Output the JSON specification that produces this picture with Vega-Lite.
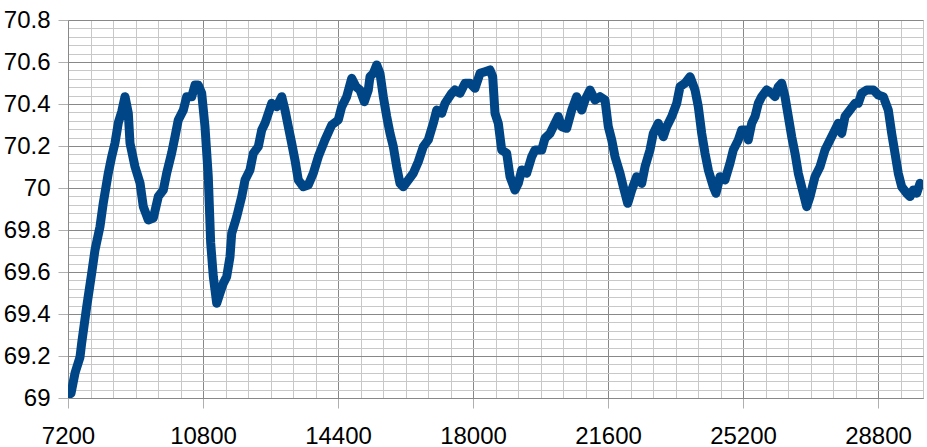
{
  "$schema": "https://vega.github.io/schema/vega-lite/v6.json",
  "width": 855,
  "height": 378,
  "autosize": {"type": "none"},
  "padding": {"left": 68, "top": 20, "right": 4, "bottom": 49},
  "background": "white",
  "config": {
    "view": {"stroke": null},
    "axis": {"labelFont": "Liberation Sans", "labelFontSize": 24, "labelColor": "#000000", "titleFont": "Liberation Sans"}
  },
  "data": {
    "values": [
      {"t":7200,"v":69.014},{"t":7280,"v":69.022},{"t":7387,"v":69.119},{"t":7520,"v":69.195},{"t":7565,"v":69.262},
      {"t":7699,"v":69.435},{"t":7832,"v":69.595},{"t":7920,"v":69.705},{"t":8053,"v":69.816},{"t":8141,"v":69.929},
      {"t":8275,"v":70.071},{"t":8365,"v":70.149},{"t":8453,"v":70.214},{"t":8541,"v":70.31},{"t":8632,"v":70.363},
      {"t":8720,"v":70.435},{"t":8808,"v":70.357},{"t":8853,"v":70.214},{"t":8987,"v":70.101},{"t":9120,"v":70.024},
      {"t":9208,"v":69.911},{"t":9341,"v":69.848},{"t":9475,"v":69.857},{"t":9608,"v":69.959},{"t":9741,"v":69.99},
      {"t":9832,"v":70.071},{"t":9965,"v":70.167},{"t":10053,"v":70.244},{"t":10141,"v":70.324},{"t":10275,"v":70.371},
      {"t":10365,"v":70.435},{"t":10499,"v":70.435},{"t":10587,"v":70.49},{"t":10675,"v":70.49},{"t":10765,"v":70.451},
      {"t":10853,"v":70.292},{"t":10941,"v":70.054},{"t":11005,"v":69.738},{"t":11075,"v":69.578},{"t":11165,"v":69.451},
      {"t":11253,"v":69.499},{"t":11341,"v":69.546},{"t":11432,"v":69.578},{"t":11520,"v":69.673},{"t":11565,"v":69.784},
      {"t":11699,"v":69.863},{"t":11832,"v":69.959},{"t":11920,"v":70.038},{"t":12053,"v":70.086},{"t":12141,"v":70.165},
      {"t":12275,"v":70.197},{"t":12365,"v":70.276},{"t":12453,"v":70.308},{"t":12632,"v":70.403},{"t":12765,"v":70.387},
      {"t":12899,"v":70.435},{"t":12987,"v":70.371},{"t":13075,"v":70.292},{"t":13165,"v":70.213},{"t":13253,"v":70.133},
      {"t":13341,"v":70.038},{"t":13475,"v":70.006},{"t":13608,"v":70.014},{"t":13741,"v":70.07},{"t":13875,"v":70.149},
      {"t":14053,"v":70.229},{"t":14232,"v":70.3},{"t":14408,"v":70.324},{"t":14499,"v":70.387},{"t":14632,"v":70.435},
      {"t":14765,"v":70.522},{"t":14880,"v":70.482},{"t":14987,"v":70.467},{"t":15101,"v":70.411},{"t":15208,"v":70.467},
      {"t":15253,"v":70.53},{"t":15341,"v":70.546},{"t":15432,"v":70.586},{"t":15520,"v":70.546},{"t":15608,"v":70.435},
      {"t":15699,"v":70.34},{"t":15787,"v":70.26},{"t":15875,"v":70.197},{"t":15965,"v":70.101},{"t":16053,"v":70.022},
      {"t":16141,"v":70.006},{"t":16275,"v":70.038},{"t":16408,"v":70.07},{"t":16541,"v":70.125},{"t":16675,"v":70.197},
      {"t":16808,"v":70.229},{"t":16941,"v":70.308},{"t":17032,"v":70.371},{"t":17165,"v":70.356},{"t":17253,"v":70.403},
      {"t":17432,"v":70.451},{"t":17520,"v":70.467},{"t":17653,"v":70.451},{"t":17787,"v":70.499},{"t":17920,"v":70.499},
      {"t":18053,"v":70.475},{"t":18187,"v":70.546},{"t":18320,"v":70.554},{"t":18453,"v":70.562},{"t":18525,"v":70.53},
      {"t":18587,"v":70.356},{"t":18675,"v":70.308},{"t":18765,"v":70.181},{"t":18899,"v":70.165},{"t":18987,"v":70.054},
      {"t":19120,"v":69.99},{"t":19208,"v":70.022},{"t":19299,"v":70.086},{"t":19432,"v":70.07},{"t":19565,"v":70.149},
      {"t":19653,"v":70.181},{"t":19832,"v":70.181},{"t":19920,"v":70.237},{"t":20053,"v":70.26},{"t":20141,"v":70.292},
      {"t":20275,"v":70.34},{"t":20365,"v":70.292},{"t":20499,"v":70.284},{"t":20632,"v":70.371},{"t":20765,"v":70.435},
      {"t":20899,"v":70.371},{"t":20987,"v":70.419},{"t":21120,"v":70.467},{"t":21253,"v":70.419},{"t":21387,"v":70.435},
      {"t":21520,"v":70.419},{"t":21608,"v":70.292},{"t":21699,"v":70.229},{"t":21787,"v":70.149},{"t":21920,"v":70.07},
      {"t":22008,"v":70.006},{"t":22125,"v":69.927},{"t":22232,"v":69.99},{"t":22365,"v":70.054},{"t":22499,"v":70.022},
      {"t":22587,"v":70.101},{"t":22720,"v":70.181},{"t":22808,"v":70.26},{"t":22941,"v":70.308},{"t":23075,"v":70.244},
      {"t":23165,"v":70.292},{"t":23299,"v":70.34},{"t":23432,"v":70.403},{"t":23520,"v":70.482},{"t":23653,"v":70.499},
      {"t":23787,"v":70.53},{"t":23920,"v":70.467},{"t":24008,"v":70.387},{"t":24099,"v":70.26},{"t":24187,"v":70.165},
      {"t":24275,"v":70.086},{"t":24408,"v":70.006},{"t":24480,"v":69.975},{"t":24587,"v":70.054},{"t":24720,"v":70.038},
      {"t":24853,"v":70.118},{"t":24941,"v":70.181},{"t":25075,"v":70.229},{"t":25165,"v":70.276},{"t":25299,"v":70.276},
      {"t":25341,"v":70.229},{"t":25432,"v":70.308},{"t":25520,"v":70.34},{"t":25608,"v":70.403},{"t":25699,"v":70.435},
      {"t":25832,"v":70.467},{"t":25965,"v":70.451},{"t":26053,"v":70.435},{"t":26141,"v":70.482},{"t":26232,"v":70.499},
      {"t":26320,"v":70.435},{"t":26408,"v":70.34},{"t":26499,"v":70.244},{"t":26587,"v":70.165},{"t":26675,"v":70.07},
      {"t":26808,"v":69.975},{"t":26899,"v":69.911},{"t":26987,"v":69.959},{"t":27120,"v":70.054},{"t":27253,"v":70.101},
      {"t":27387,"v":70.181},{"t":27520,"v":70.229},{"t":27653,"v":70.276},{"t":27741,"v":70.308},{"t":27832,"v":70.26},
      {"t":27920,"v":70.34},{"t":28053,"v":70.371},{"t":28187,"v":70.403},{"t":28275,"v":70.403},{"t":28365,"v":70.451},
      {"t":28499,"v":70.467},{"t":28675,"v":70.467},{"t":28808,"v":70.443},{"t":28941,"v":70.435},{"t":29075,"v":70.371},
      {"t":29165,"v":70.26},{"t":29253,"v":70.165},{"t":29341,"v":70.07},{"t":29432,"v":70.006},{"t":29565,"v":69.975},
      {"t":29653,"v":69.959},{"t":29741,"v":69.99},{"t":29832,"v":69.975},{"t":29920,"v":70.022}
    ]
  },
  "resolve": {"axis": {"x": "independent", "y": "independent"}},
  "layer": [
    {
      "mark": {"type": "line", "strokeOpacity": 0},
      "encoding": {
        "x": {"field": "t", "type": "quantitative", "scale": {"domain": [7200, 30000], "nice": false, "zero": false},
          "axis": {"orient": "top", "values": [7200,7800,8400,9000,9600,10200,10800,11400,12000,12600,13200,13800,14400,15000,15600,16200,16800,17400,18000,18600,19200,19800,20400,21000,21600,22200,22800,23400,24000,24600,25200,25800,26400,27000,27600,28200,28800,29400,30000],
            "labels": false, "ticks": false, "domain": false, "title": null, "grid": true, "gridColor": "#c8c8c8", "gridWidth": 1}},
        "y": {"field": "v", "type": "quantitative", "scale": {"domain": [69, 70.8], "nice": false, "zero": false},
          "axis": {"orient": "right", "values": [69,69.04,69.08,69.12,69.16,69.2,69.24,69.28,69.32,69.36,69.4,69.44,69.48,69.52,69.56,69.6,69.64,69.68,69.72,69.76,69.8,69.84,69.88,69.92,69.96,70,70.04,70.08,70.12,70.16,70.2,70.24,70.28,70.32,70.36,70.4,70.44,70.48,70.52,70.56,70.6,70.64,70.68,70.72,70.76,70.8],
            "labels": false, "ticks": false, "domain": false, "title": null, "grid": true, "gridColor": "#c8c8c8", "gridWidth": 1}}
      }
    },
    {
      "mark": {"type": "line", "color": "#004586", "strokeWidth": 9, "strokeJoin": "round", "strokeCap": "round", "clip": true},
      "encoding": {
        "x": {"field": "t", "type": "quantitative", "scale": {"domain": [7200, 30000], "nice": false, "zero": false},
          "axis": {"orient": "bottom", "values": [7200,10800,14400,18000,21600,25200,28800], "format": "d",
            "title": null, "grid": true, "gridColor": "#888888", "gridWidth": 1, "domain": true, "domainColor": "#888888",
            "ticks": true, "tickSize": 10, "tickColor": "#b0b0b0", "labelPadding": 16, "labelFlush": false, "labelOverlap": false}},
        "y": {"field": "v", "type": "quantitative", "scale": {"domain": [69, 70.8], "nice": false, "zero": false},
          "axis": {"orient": "left", "values": [69,69.2,69.4,69.6,69.8,70,70.2,70.4,70.6,70.8], "format": ".1~f",
            "title": null, "grid": true, "gridColor": "#888888", "gridWidth": 1, "domain": true, "domainColor": "#888888",
            "ticks": true, "tickSize": 10, "tickColor": "#b0b0b0", "labelPadding": 8, "labelFlush": false, "labelOverlap": false}}
      }
    }
  ]
}
